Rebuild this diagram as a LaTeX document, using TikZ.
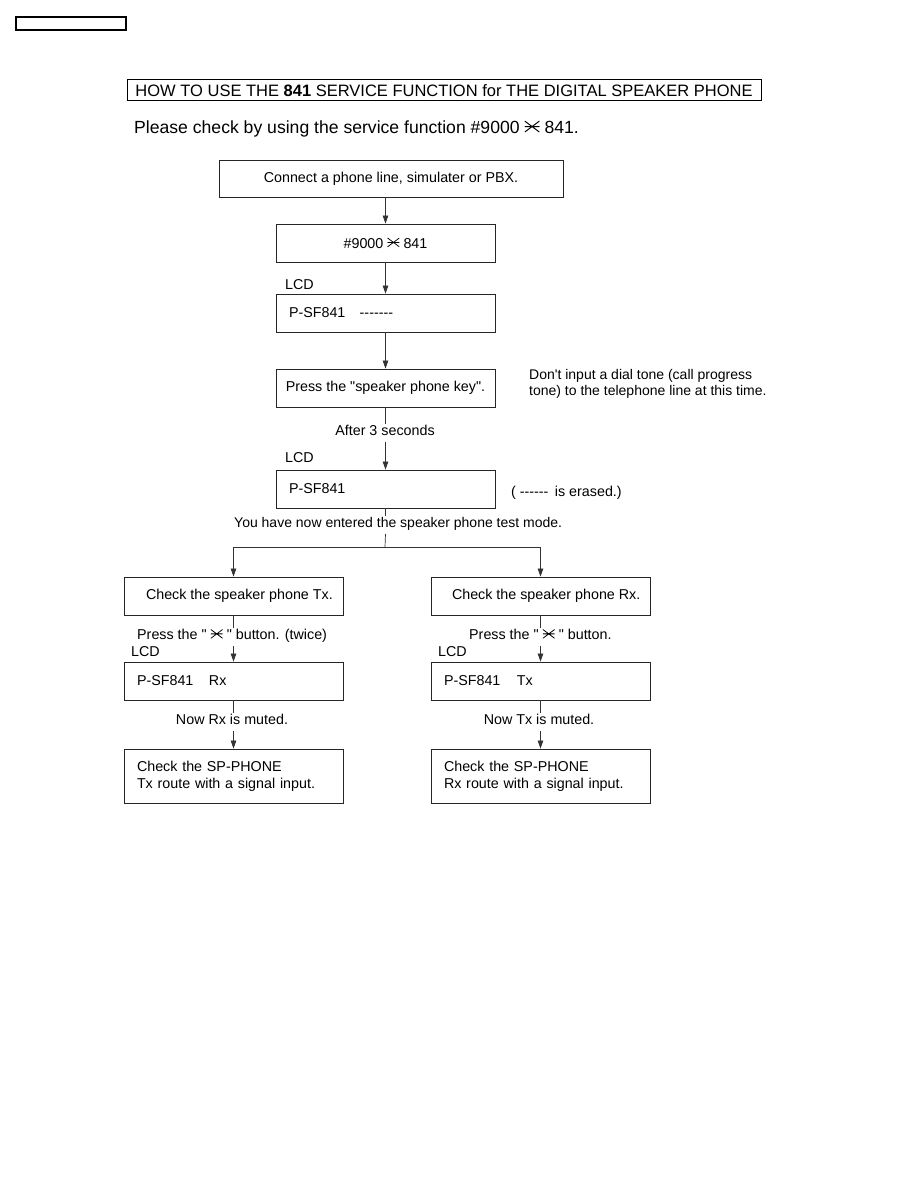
\documentclass[tikz,border=0pt]{standalone}
\usepackage{fontspec}
\setmainfont{Liberation Sans}[Ligatures=TeXOff]
\usetikzlibrary{arrows.meta}
\newcommand\sxstar{\tikz[baseline=0pt]{\draw[line width=0.055em,line cap=round] (0em,0.1em)--(0.8em,0.7em) (0em,0.7em)--(0.8em,0.1em) (0em,0.4em)--(0.8em,0.4em);}}
\newcommand\fsz[1]{\fontsize{#1pt}{#1pt}\selectfont}
\tikzset{
  box/.style={draw=black!85, line width=0.8pt, inner ysep=0pt, minimum height=38pt, font=\fsz{14.3}},
  lbox/.style={box, align=left, inner xsep=13pt, text width=193pt},
  cbox/.style={box, align=center, inner xsep=0pt, minimum width=219pt},
  lbl/.style={inner sep=0pt, font=\fsz{14.3}, text height=0.72em, text depth=0.2em},
  gap/.style={lbl, inner ysep=4pt},
  conn/.style={draw=black!80, line width=0.7pt},
  arr/.style={conn, -{Triangle[length=8pt,width=5.5pt]}},
}
\begin{document}
\begin{tikzpicture}[x=1pt,y=-1pt]
\useasboundingbox (0,0) rectangle (918,1188);
% header boxes
\draw[line width=1.2pt] (16,17) rectangle (126,30);
\node[draw, line width=1pt, minimum width=634pt, minimum height=21pt, inner sep=0pt, font=\fsz{16.5}] (title) at (444,90.5)
  {HOW TO USE THE \textbf{841} SERVICE FUNCTION for THE DIGITAL SPEAKER PHONE};
\node[lbl, font=\fsz{17.6}, anchor=west] (please) at (134,131) {Please check by using the service function \#9000 \sxstar{} 841.};
% main column
\node[cbox, minimum width=344pt, minimum height=37pt] (b1) at (391,178.5) {Connect a phone line, simulater or PBX.};
\node[cbox] (b2) at (385.5,243) {\#9000 \sxstar{} 841};
\node[lbox] (b3) at (385.5,313) {P-SF841\hspace{1em}-------};
\node[cbox] (b4) at (385.5,388) {Press the "speaker phone key".};
\node[lbox] (b5) at (385.5,489) {P-SF841};
\node[lbl, anchor=west] (lcd3) at (285,287) {LCD};
\node[lbl, anchor=west] (lcd5) at (285,460) {LCD};
\node[gap] (after3) at (385,433) {After 3 seconds};
\node[lbl, anchor=west, align=left, text height=, text depth=, font=\fontsize{14pt}{16pt}\selectfont] (note) at (529,384)
  {Don't input a dial tone (call progress\\tone) to the telephone line at this time.};
\node[lbl, anchor=west] (erased) at (511,494) {( ------\hspace{0.45em}is erased.)};
\node[gap, anchor=west, font=\fsz{14}] (enter) at (234,525) {You have now entered the speaker phone test mode.};
\coordinate (split) at (385,547);
% left column
\node[box, inner xsep=11pt, minimum width=219pt] (l1) at (233.5,596) {\makebox[197pt][l]{\hspace{11pt}Check the speaker phone Tx.}};
\node[gap, anchor=west] (pressl) at (137,637) {Press the " \sxstar{} " button. (twice)};
\node[lbl, anchor=west] (lcdl) at (131,654) {LCD};
\node[lbox] (l2) at (233.5,681) {\makebox[72pt][l]{P-SF841}Rx};
\node[gap] (nowrx) at (232,722) {Now Rx is muted.};
\node[lbox, minimum height=54pt, font=\fontsize{14.3pt}{17pt}\selectfont] (l3) at (233.5,776) {Check the SP-PHONE\\Tx route with a signal input.};
% right column
\node[box, inner xsep=11pt, minimum width=219pt] (r1) at (540.5,596) {\makebox[197pt][l]{\hspace{10pt}Check the speaker phone Rx.}};
\node[gap, anchor=west] (pressr) at (469,637) {Press the " \sxstar{} " button.};
\node[lbl, anchor=west] (lcdr) at (438,654) {LCD};
\node[lbox] (r2) at (540.5,681) {\makebox[73pt][l]{P-SF841}Tx};
\node[gap] (nowtx) at (539,722) {Now Tx is muted.};
\node[lbox, minimum height=54pt, font=\fontsize{14.3pt}{17pt}\selectfont] (r3) at (540.5,776) {Check the SP-PHONE\\Rx route with a signal input.};
% connectors
\draw[arr] (b2.north |- b1.south) -- (b2.north);
\draw[arr] (b2.south) -- (b3.north);
\draw[arr] (b3.south) -- (b4.north);
\draw[conn] (b4.south) -- (b4.south |- after3.north);
\draw[arr] (b4.south |- after3.south) -- (b5.north);
\draw[conn] (b5.south) -- (b5.south |- enter.north);
\draw[conn] (b5.south |- enter.south) -- (split);
\draw[arr] (split) -| (l1.north);
\draw[arr] (split) -| (r1.north);
\draw[conn] (l1.south) -- (l1.south |- pressl.north);
\draw[arr] (l1.south |- pressl.south) -- (l2.north);
\draw[conn] (l2.south) -- (l2.south |- nowrx.north);
\draw[arr] (l2.south |- nowrx.south) -- (l3.north);
\draw[conn] (r1.south) -- (r1.south |- pressr.north);
\draw[arr] (r1.south |- pressr.south) -- (r2.north);
\draw[conn] (r2.south) -- (r2.south |- nowtx.north);
\draw[arr] (r2.south |- nowtx.south) -- (r3.north);
\end{tikzpicture}
\end{document}
